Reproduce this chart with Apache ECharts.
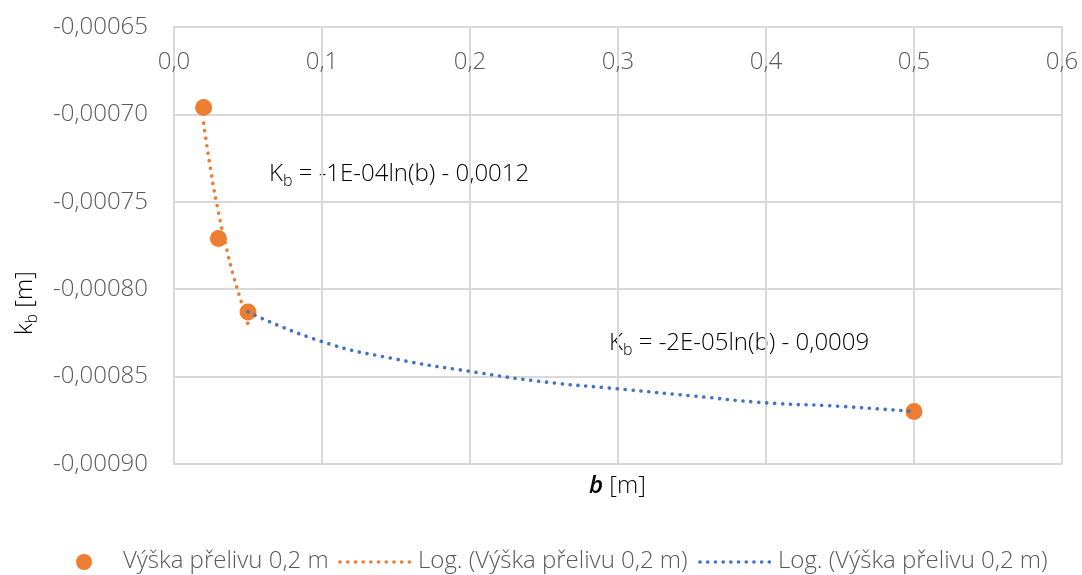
<!DOCTYPE html>
<html>
<head>
<meta charset="utf-8">
<script src="https://cdn.jsdelivr.net/npm/echarts@6/dist/echarts.min.js"></script>
<style>html,body{margin:0;padding:0;background:#fff}#c{width:1082px;height:575px}</style>
</head>
<body>
<div id="c"></div>
<script>
const bValues = [0.02, 0.03, 0.05, 0.5];
const kbValues = [-0.000696, -0.000771, -0.000813, -0.00087];
const trend1X = [0.02, 0.025, 0.03, 0.035, 0.04, 0.045, 0.05];
const trend1Y = [-0.000705, -0.000733, -0.000756, -0.000775, -0.000792, -0.000806, -0.00082];
const trend2X = [0.05, 0.1, 0.15, 0.2, 0.25, 0.3, 0.35, 0.4, 0.45, 0.5];
const trend2Y = [-0.000813, -0.00083, -0.00084, -0.000847, -0.000853, -0.000857, -0.000861, -0.000865, -0.000867, -0.00087];
const legendNames = ['Výška přelivu 0,2 m', 'Log. (Výška přelivu 0,2 m)', 'Log. (Výška přelivu 0,2 m)'];
const eq1 = ' = -1E-04ln(b) - 0,0012';
const eq2 = ' = -2E-05ln(b) - 0,0009';

const FONT = "'Open Sans', 'Liberation Sans', sans-serif";
const FS = 24;
const TXT = '#595959';
const GRID = '#d9d9d9';
const ORANGE = '#ED7D31';
const BLUE = '#4472C4';

const zip = (xs, ys) => xs.map((x, i) => [x, ys[i]]);

const chart = echarts.init(document.getElementById('c'), null, {renderer: 'canvas'});
const rich = {
  a: {fontSize: FS, fontFamily: FONT, fontWeight: 300, color: TXT},
  s: {fontSize: 16, fontFamily: FONT, fontWeight: 300, color: TXT, padding: [14, 0, 0, 0]}
};
const dot = (color) => ({stroke: color, lineWidth: 3.6, lineDash: [0.1, 7.6], lineCap: 'round'});
const legTxt = (x, t) => ({type: 'text', x: x, y: 561,
  style: {text: t, fontSize: FS, fontFamily: FONT, fontWeight: 300, fill: TXT, verticalAlign: 'middle', align: 'left'}});

chart.setOption({
  animation: false,
  textStyle: {fontFamily: FONT, fontWeight: 300, color: TXT},
  grid: {left: 174, right: 20, top: 27, bottom: 111, containLabel: false},
  xAxis: {
    type: 'value', position: 'top', min: 0, max: 0.6, interval: 0.1,
    axisLine: {show: true, lineStyle: {color: GRID, width: 2}},
    axisTick: {show: false},
    splitLine: {show: true, lineStyle: {color: GRID, width: 2}},
    axisLabel: {inside: true, margin: 23, fontSize: FS, color: TXT, fontFamily: FONT, fontWeight: 300,
      formatter: v => v.toFixed(1).replace('.', ',')}
  },
  yAxis: {
    type: 'value', min: -0.0009, max: -0.00065, interval: 0.00005,
    axisLine: {show: true, lineStyle: {color: GRID, width: 2}},
    axisTick: {show: false},
    splitLine: {show: true, lineStyle: {color: GRID, width: 2}},
    axisLabel: {margin: 26, fontSize: FS, color: TXT, fontFamily: FONT, fontWeight: 300,
      formatter: v => v.toFixed(5).replace('.', ',')}
  },
  series: [
    {name: legendNames[0], type: 'scatter', data: zip(bValues, kbValues), symbol: 'circle', symbolSize: 17,
      itemStyle: {color: ORANGE, opacity: 1}, z: 2},
    {name: legendNames[1], type: 'line', data: zip(trend1X, trend1Y), smooth: true, symbol: 'none',
      lineStyle: {color: ORANGE, width: 3.6, type: [0.1, 7.5], cap: 'round'}, itemStyle: {color: ORANGE}, z: 3},
    {name: legendNames[2], type: 'line', data: zip(trend2X, trend2Y), smooth: true, symbol: 'none',
      lineStyle: {color: BLUE, width: 3.6, type: [0.1, 7.8], cap: 'round'}, itemStyle: {color: BLUE}, z: 3}
  ],
  graphic: [
    {type: 'text', left: 269, top: 162, style: {text: '{a|K}{s|b}{a|' + eq1 + '}', rich: rich}},
    {type: 'text', left: 609, top: 331, style: {text: '{a|K}{s|b}{a|' + eq2 + '}', rich: rich}},
    {type: 'text', x: 10, y: 335, rotation: Math.PI / 2,
      style: {text: '{a|k}{s|b}{a| [m]}', rich: rich}},
    {type: 'text', left: 589, top: 474,
      style: {text: '{b|b}{a| [m]}', rich: {
        a: {fontSize: FS, fontFamily: FONT, fontWeight: 300, color: TXT},
        b: {fontSize: FS, fontFamily: FONT, fontWeight: 600, fontStyle: 'italic', color: TXT}}}},
    {type: 'circle', shape: {cx: 84, cy: 562, r: 8}, style: {fill: ORANGE}},
    legTxt(123, legendNames[0]),
    {type: 'line', shape: {x1: 340, y1: 562, x2: 410, y2: 562}, style: dot(ORANGE)},
    legTxt(418, legendNames[1]),
    {type: 'line', shape: {x1: 700, y1: 562, x2: 770, y2: 562}, style: dot(BLUE)},
    legTxt(778, legendNames[2])
  ]
});
</script>
</body>
</html>
